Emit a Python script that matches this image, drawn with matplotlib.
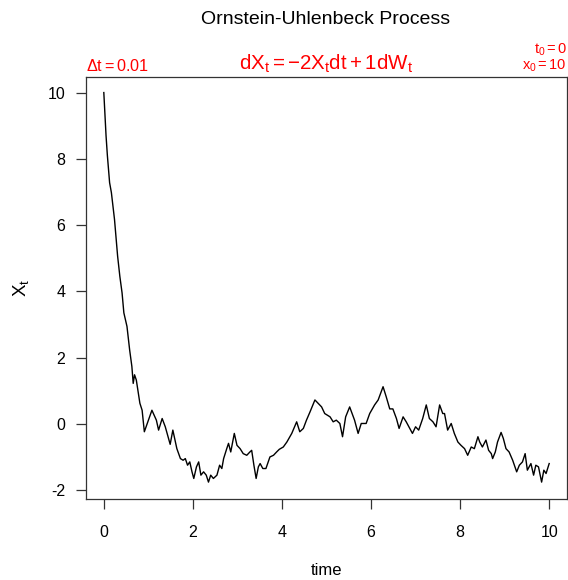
import matplotlib
matplotlib.use("Agg")
import matplotlib.pyplot as plt

plt.rcParams['font.family'] = ['Liberation Sans', 'DejaVu Sans']
plt.rcParams['mathtext.fontset'] = 'custom'
plt.rcParams['mathtext.rm'] = 'Liberation Sans'
plt.rcParams['mathtext.it'] = 'Liberation Sans'
plt.rcParams['mathtext.bf'] = 'Liberation Sans:bold'

# Path values
time = [0.0, 0.05, 0.08, 0.13, 0.17, 0.24, 0.31, 0.36, 0.41, 0.45, 0.52, 0.58,
        0.63, 0.66, 0.69, 0.73, 0.81, 0.86, 0.91, 1.01, 1.08, 1.18, 1.23, 1.31,
        1.38, 1.49, 1.55, 1.64,
        1.72, 1.78, 1.83, 1.88, 1.93, 1.98, 2.02, 2.08, 2.13, 2.18, 2.24, 2.30,
        2.35, 2.40, 2.46, 2.54, 2.60, 2.65, 2.69, 2.76, 2.80, 2.85, 2.90, 2.93,
        2.99, 3.06, 3.13, 3.21, 3.28, 3.32, 3.37, 3.42, 3.47, 3.51, 3.57, 3.64,
        3.69, 3.73, 3.81, 3.88, 3.94,
        4.03, 4.11, 4.22, 4.33,
        4.40, 4.48, 4.55, 4.63, 4.74, 4.81, 4.89, 4.96, 5.08, 5.15, 5.22, 5.30,
        5.36, 5.43, 5.52, 5.63, 5.71, 5.78, 5.89, 5.97, 6.08, 6.16, 6.27, 6.34,
        6.42, 6.49, 6.57, 6.63, 6.72, 6.79, 6.87, 6.93, 7.00, 7.07, 7.16, 7.24,
        7.31, 7.39, 7.46, 7.54, 7.61, 7.65, 7.72, 7.80, 7.87, 7.95, 8.02, 8.10,
        8.17, 8.25, 8.32, 8.40,
        8.44, 8.50, 8.58, 8.64, 8.70, 8.73, 8.79, 8.84, 8.92, 8.97, 9.03, 9.10,
        9.18, 9.27, 9.33, 9.40, 9.46, 9.51, 9.59, 9.65, 9.70, 9.76, 9.83, 9.88,
        9.93, 10.0]
xt = [10.0, 8.70, 8.10, 7.28, 6.98, 6.17, 5.06, 4.45, 3.95, 3.35, 2.94, 2.23,
      1.73, 1.22, 1.48, 1.32, 0.62, 0.41, -0.24, 0.14, 0.41, 0.11, -0.19, 0.16,
      -0.09, -0.62, -0.19, -0.75,
      -1.05, -1.10, -1.05, -1.25, -1.15, -1.45, -1.65, -1.30, -1.15, -1.55, -1.45, -1.55,
      -1.76, -1.55, -1.65, -1.55, -1.25, -1.35, -1.05, -0.75, -0.59, -0.85, -0.49, -0.29,
      -0.65, -0.75, -0.90, -0.95, -0.85, -0.80, -1.25, -1.65, -1.30, -1.20, -1.35, -1.35,
      -1.15, -1.00, -0.95, -0.85, -0.77,
      -0.70, -0.55, -0.29, 0.06,
      -0.24, -0.14, 0.11, 0.36, 0.72, 0.62, 0.51, 0.31, 0.21, 0.06, 0.11, 0.01,
      -0.39, 0.21, 0.51, 0.11, -0.29, 0.01, 0.01, 0.31, 0.57, 0.72, 1.12, 0.82,
      0.45, 0.45, 0.16, -0.14, 0.21, 0.06, -0.14, -0.29, -0.09, -0.19, 0.16, 0.57,
      0.16, 0.06, -0.09, 0.57, 0.31, 0.31, -0.19, 0.01, -0.29, -0.55, -0.65, -0.75,
      -0.95, -0.70, -0.75, -0.39,
      -0.55, -0.70, -0.49, -0.80, -0.90, -1.05, -0.85, -0.55, -0.26, -0.44, -0.75, -0.85,
      -1.10, -1.45, -1.25, -1.15, -0.90, -1.40, -1.20, -1.55, -1.25, -1.30, -1.76, -1.40,
      -1.50, -1.20]

xticks = [0, 2, 4, 6, 8, 10]
yticks = [-2, 0, 2, 4, 6, 8, 10]

fig = plt.figure(figsize=(5.68, 5.80), dpi=100)
ax = fig.add_axes([86/568, 1 - 499/580, (567 - 86)/568, (499 - 77)/580])
ax.plot(time, xt, color='black', linewidth=1.0)
ax.set_xlim(-0.4, 10.4)
ax.set_ylim(-2.27, 10.47)
ax.set_xticks(xticks)
ax.set_yticks(yticks)
ax.set_xticklabels([str(v) for v in xticks])
ax.set_yticklabels([str(v) for v in yticks])
ax.tick_params(axis='both', length=7, width=0.9, color='#333333', labelsize=11.5)
ax.tick_params(axis='x', pad=12)
ax.tick_params(axis='y', pad=8)
for s in ax.spines.values():
    s.set_color('#333333')
    s.set_linewidth(0.9)

ax.set_xlabel('time', fontsize=12, labelpad=16)
ax.set_ylabel(r'$X_t$', fontsize=13.5, labelpad=12)

fig.text(326/568, 1 - 19/580, 'Ornstein-Uhlenbeck Process', ha='center', va='center', fontsize=14)
fig.text(86/568, 1 - 66/580, r'$\Delta t = 0.01$', ha='left', va='center', fontsize=11.7, color='red')
fig.text(326/568, 1 - 64/580, r'$dX_t = -2X_t dt + 1dW_t$', ha='center', va='center', fontsize=14.8, color='red')
fig.text(567/568, 1 - 50/580, r'$t_0 = 0$', ha='right', va='center', fontsize=10.5, color='red')
fig.text(567/568, 1 - 66/580, r'$x_0 = 10$', ha='right', va='center', fontsize=10.5, color='red')

fig.savefig('out.png', dpi=100)
